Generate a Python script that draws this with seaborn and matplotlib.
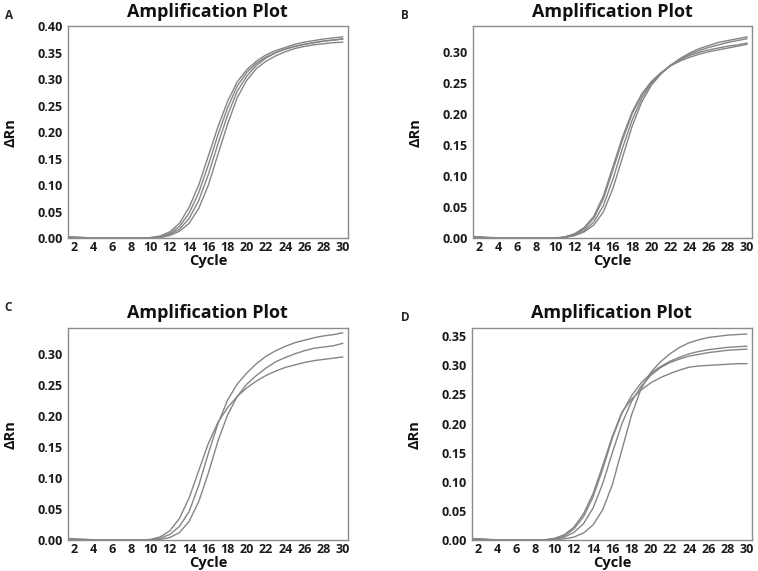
import numpy as np
import pandas as pd
import matplotlib
matplotlib.use('Agg')
import matplotlib.pyplot as plt
import seaborn as sns

# cycles 1..30
cycles = list(range(1, 31))

# panel A - four wells
a1 = [0.003, 0.002, 0.001, 0.0005, 0, 0, 0, 0, 0, 0.001, 0.004, 0.012, 0.028, 0.058, 0.100,
      0.155, 0.210, 0.258, 0.295, 0.318, 0.334, 0.346, 0.354, 0.360, 0.366, 0.370, 0.373, 0.376, 0.378, 0.380]
a2 = [0.002, 0.002, 0.001, 0, 0, 0, 0, 0, 0, 0.001, 0.003, 0.009, 0.022, 0.047, 0.086,
      0.138, 0.195, 0.246, 0.287, 0.313, 0.330, 0.342, 0.350, 0.357, 0.362, 0.366, 0.369, 0.372, 0.374, 0.376]
a3 = [0.001, 0.001, 0, 0, 0, 0, 0, 0, 0, 0, 0.002, 0.007, 0.017, 0.037, 0.071,
      0.120, 0.178, 0.232, 0.277, 0.306, 0.326, 0.340, 0.350, 0.357, 0.362, 0.366, 0.369, 0.372, 0.374, 0.376]
a4 = [0.001, 0.001, 0, 0, 0, 0, 0, 0, 0, 0, 0.001, 0.005, 0.013, 0.028, 0.056,
      0.100, 0.158, 0.215, 0.265, 0.298, 0.320, 0.334, 0.344, 0.352, 0.358, 0.362, 0.365, 0.367, 0.369, 0.370]

# panel B - four wells
b1 = [0.003, 0.002, 0.001, 0.0005, 0, 0, 0, 0, 0, 0, 0.002, 0.007, 0.017, 0.035, 0.068,
      0.115, 0.163, 0.203, 0.232, 0.252, 0.266, 0.277, 0.285, 0.291, 0.296, 0.300, 0.303, 0.306, 0.309, 0.312]
b2 = [0.002, 0.002, 0.001, 0, 0, 0, 0, 0, 0, 0, 0.002, 0.006, 0.015, 0.032, 0.063,
      0.110, 0.158, 0.200, 0.230, 0.251, 0.266, 0.278, 0.287, 0.294, 0.299, 0.303, 0.306, 0.309, 0.311, 0.314]
b3 = [0.001, 0.001, 0, 0, 0, 0, 0, 0, 0, 0, 0.001, 0.005, 0.012, 0.026, 0.052,
      0.095, 0.145, 0.190, 0.225, 0.249, 0.265, 0.278, 0.288, 0.296, 0.302, 0.307, 0.311, 0.315, 0.318, 0.321]
b4 = [0.001, 0.001, 0, 0, 0, 0, 0, 0, 0, 0, 0.001, 0.004, 0.010, 0.021, 0.042,
      0.080, 0.130, 0.180, 0.219, 0.246, 0.264, 0.278, 0.289, 0.298, 0.305, 0.310, 0.315, 0.318, 0.321, 0.324]

# panel C - three wells
c1 = [0.003, 0.002, 0.001, 0.0005, 0, 0, 0, 0, 0, 0.001, 0.005, 0.015, 0.035, 0.068, 0.112,
      0.156, 0.190, 0.214, 0.232, 0.246, 0.257, 0.266, 0.273, 0.279, 0.283, 0.287, 0.290, 0.292, 0.294, 0.296]
c2 = [0.002, 0.001, 0.001, 0, 0, 0, 0, 0, 0, 0.0005, 0.003, 0.009, 0.022, 0.046, 0.088,
      0.140, 0.188, 0.226, 0.252, 0.270, 0.285, 0.297, 0.306, 0.313, 0.319, 0.323, 0.327, 0.330, 0.332, 0.335]
c3 = [0.001, 0.001, 0, 0, 0, 0, 0, 0, 0, 0, 0.001, 0.004, 0.012, 0.030, 0.062,
      0.108, 0.160, 0.202, 0.232, 0.252, 0.266, 0.278, 0.288, 0.295, 0.301, 0.306, 0.310, 0.312, 0.314, 0.318]

# panel D - four wells
d1 = [0.003, 0.002, 0.001, 0.0005, 0, 0, 0, 0, 0.0005, 0.003, 0.009, 0.022, 0.045, 0.080, 0.128,
      0.178, 0.220, 0.242, 0.258, 0.270, 0.279, 0.286, 0.292, 0.297, 0.299, 0.300, 0.301, 0.302, 0.303, 0.303]
d2 = [0.002, 0.002, 0.001, 0, 0, 0, 0, 0, 0, 0.002, 0.007, 0.019, 0.040, 0.074, 0.122,
      0.175, 0.218, 0.248, 0.270, 0.286, 0.298, 0.307, 0.314, 0.320, 0.324, 0.327, 0.329, 0.331, 0.332, 0.333]
d3 = [0.001, 0.001, 0, 0, 0, 0, 0, 0, 0, 0.001, 0.005, 0.013, 0.028, 0.055, 0.097,
      0.150, 0.200, 0.238, 0.264, 0.283, 0.296, 0.305, 0.311, 0.316, 0.319, 0.322, 0.324, 0.326, 0.327, 0.328]
d4 = [0.001, 0.001, 0, 0, 0, 0, 0, 0, 0, 0, 0.002, 0.005, 0.012, 0.026, 0.052,
      0.095, 0.155, 0.215, 0.260, 0.288, 0.306, 0.320, 0.331, 0.339, 0.344, 0.348, 0.350, 0.352, 0.353, 0.354]

panel_letters = ['A', 'B', 'C', 'D']
panel_wells = [[a1, a2, a3, a4], [b1, b2, b3, b4], [c1, c2, c3], [d1, d2, d3, d4]]
panel_ymax = [0.40, 0.341, 0.3425, 0.364]
panel_yticks = [[0, 0.05, 0.10, 0.15, 0.20, 0.25, 0.30, 0.35, 0.40],
                [0, 0.05, 0.10, 0.15, 0.20, 0.25, 0.30],
                [0, 0.05, 0.10, 0.15, 0.20, 0.25, 0.30],
                [0, 0.05, 0.10, 0.15, 0.20, 0.25, 0.30, 0.35]]
xticks = list(range(2, 31, 2))

sns.set_style('white')
plt.rcParams['font.family'] = ['Open Sans', 'DejaVu Sans']
plt.rcParams['font.weight'] = 'bold'

fig = plt.figure(figsize=(7.58, 5.71), dpi=100)

# axes boxes in figure fractions
boxes = [[0.0897, 0.583, 0.369, 0.371],
         [0.624, 0.583, 0.368, 0.371],
         [0.0897, 0.0543, 0.369, 0.371],
         [0.6227, 0.0543, 0.369, 0.371]]
letter_pos = [(0.006, 0.985), (0.529, 0.985), (0.006, 0.473), (0.529, 0.456)]

for i in range(4):
    ax = fig.add_axes(boxes[i])
    rows = []
    for w, vals in enumerate(panel_wells[i]):
        for c, v in zip(cycles, vals):
            rows.append({'Cycle': c, 'dRn': v, 'well': w})
    df = pd.DataFrame(rows)
    sns.lineplot(data=df, x='Cycle', y='dRn', units='well', estimator=None,
                 color='#858585', lw=1.0, ax=ax)
    ax.set_xlim(1.4, 30.5)
    ax.set_ylim(0, panel_ymax[i])
    ax.set_xticks(xticks)
    ax.set_yticks(panel_yticks[i])
    ax.set_yticklabels([f'{t:.2f}' for t in panel_yticks[i]])
    ax.tick_params(axis='both', length=0, labelsize=9, colors='#1a1a1a')
    ax.tick_params(axis='x', pad=2)
    ax.tick_params(axis='y', pad=4)
    for lab in ax.get_xticklabels() + ax.get_yticklabels():
        lab.set_fontweight('bold')
    for s in ax.spines.values():
        s.set_color('#8c8c8c')
        s.set_linewidth(1.0)
    ax.set_title('Amplification Plot', fontsize=13, fontweight='bold', pad=7, color='#111111')
    ax.set_xlabel('Cycle', fontsize=10.5, fontweight='bold', color='#111111')
    ax.set_ylabel('ΔRn', fontsize=10.5, fontweight='bold', color='#111111')
    ax.yaxis.label.set_va('center')
    ax.xaxis.set_label_coords(0.5, -0.075)
    ax.yaxis.set_label_coords(-0.205, 0.5)
    fig.text(letter_pos[i][0], letter_pos[i][1], panel_letters[i], fontsize=8.5,
             fontweight='bold', va='top', ha='left')

fig.savefig('out.png', dpi=100)
